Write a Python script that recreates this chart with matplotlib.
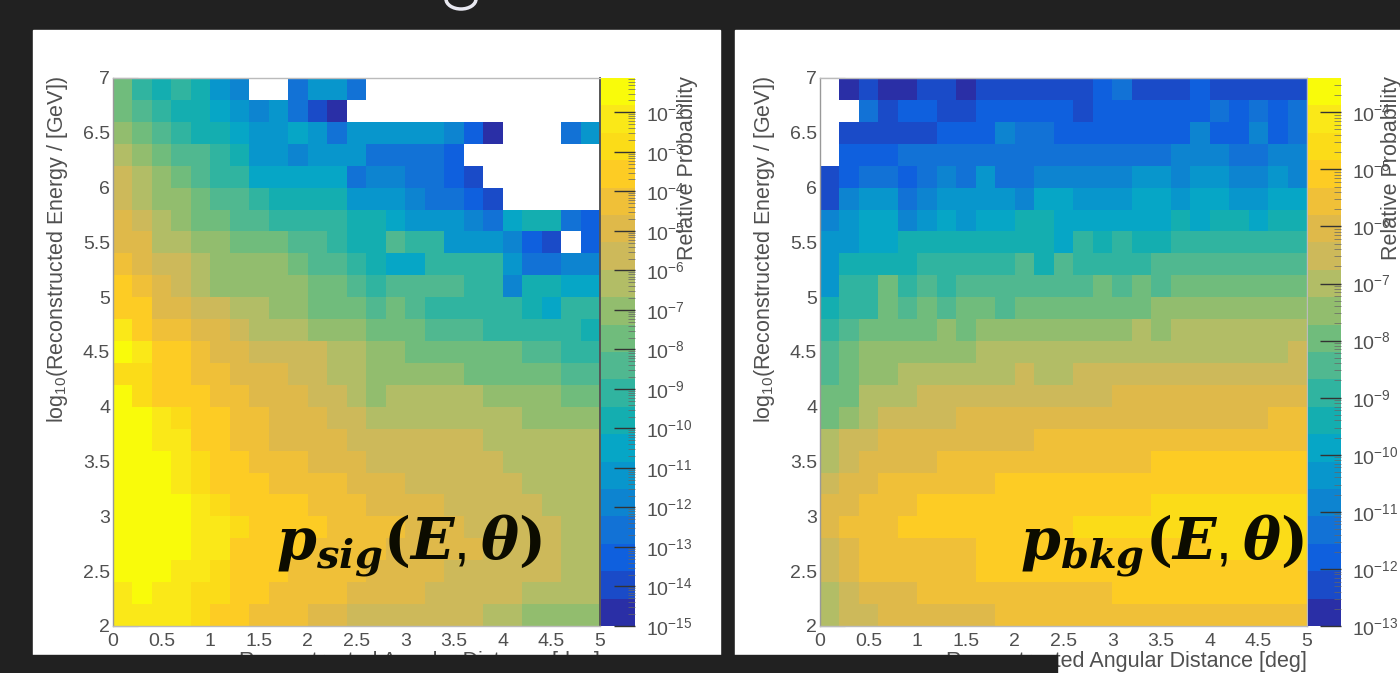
import numpy as np
import matplotlib
matplotlib.use('Agg')
import matplotlib.pyplot as plt
from matplotlib.colors import ListedColormap, LogNorm
from matplotlib.patches import Rectangle, Ellipse
from matplotlib.ticker import FixedLocator, NullFormatter

plt.rcParams['font.family'] = ['Liberation Sans', 'DejaVu Sans']
plt.rcParams['mathtext.default'] = 'regular'

W = -1  # empty bin

# colour level (0-19) of each bin, top row is y = 7
sig_levels = [
    [10, 8, 7, 8, 7, 5, 4, W, W, 3, 5, 5, 3, W, W, W, W, W, W, W, W, W, W, W, W],
    [10, 9, 8, 7, 7, 6, 5, 4, 5, 3, 1, 0, W, W, W, W, W, W, W, W, W, W, W, W, W],
    [11, 10, 9, 8, 7, 7, 6, 5, 5, 6, 5, 3, 5, 5, 5, 5, 5, 4, 2, 0, W, W, W, 3, 5],
    [12, 11, 10, 9, 9, 8, 7, 5, 5, 4, 5, 5, 5, 3, 3, 3, 3, 2, W, W, W, W, W, W, W],
    [13, 12, 11, 10, 9, 8, 8, 6, 6, 6, 6, 6, 3, 4, 4, 3, 3, 2, 1, W, W, W, W, W, W],
    [13, 12, 11, 11, 10, 9, 9, 8, 7, 7, 7, 7, 5, 5, 5, 4, 3, 3, 2, 1, W, W, W, W, W],
    [14, 13, 12, 11, 10, 10, 9, 9, 8, 8, 8, 8, 7, 7, 6, 5, 5, 5, 4, 3, 6, 7, 7, 3, 2],
    [14, 14, 12, 12, 11, 11, 10, 10, 10, 9, 9, 8, 7, 7, 9, 8, 8, 5, 5, 5, 4, 2, 1, W, 2],
    [15, 14, 13, 13, 12, 11, 11, 11, 11, 10, 9, 9, 8, 7, 6, 6, 8, 8, 8, 8, 5, 3, 3, 4, 4],
    [16, 15, 14, 13, 12, 11, 11, 11, 11, 11, 10, 10, 9, 8, 9, 9, 9, 9, 8, 8, 4, 7, 7, 6, 6],
    [16, 16, 14, 14, 13, 13, 12, 12, 11, 11, 10, 10, 10, 9, 10, 9, 8, 8, 8, 8, 8, 7, 6, 8, 8],
    [18, 16, 15, 15, 14, 14, 13, 12, 12, 12, 11, 11, 11, 10, 10, 10, 9, 9, 9, 8, 8, 8, 8, 8, 7],
    [19, 18, 16, 16, 15, 14, 14, 13, 13, 13, 13, 12, 12, 11, 11, 10, 10, 10, 10, 10, 10, 9, 9, 8, 8],
    [17, 17, 16, 16, 15, 15, 14, 14, 14, 13, 13, 12, 12, 11, 11, 11, 11, 11, 10, 10, 10, 10, 10, 9, 9],
    [19, 17, 16, 16, 16, 15, 15, 14, 14, 14, 13, 13, 12, 11, 12, 12, 12, 12, 12, 11, 11, 11, 11, 10, 10],
    [19, 19, 18, 17, 16, 16, 15, 15, 14, 14, 14, 13, 13, 12, 12, 12, 12, 12, 12, 12, 12, 11, 11, 11, 11],
    [19, 19, 18, 18, 16, 16, 15, 15, 14, 14, 14, 14, 13, 13, 13, 13, 13, 13, 13, 12, 12, 12, 12, 12, 12],
    [19, 19, 19, 18, 17, 16, 16, 15, 15, 15, 14, 14, 14, 13, 13, 13, 13, 13, 13, 13, 12, 12, 12, 12, 12],
    [19, 19, 19, 18, 17, 16, 16, 16, 15, 15, 15, 15, 14, 14, 14, 13, 13, 13, 13, 13, 13, 12, 12, 12, 12],
    [19, 19, 19, 19, 18, 17, 16, 16, 16, 16, 15, 15, 15, 14, 14, 14, 14, 13, 13, 13, 13, 13, 12, 12, 12],
    [19, 19, 19, 19, 18, 18, 17, 16, 16, 16, 16, 15, 15, 15, 15, 14, 14, 14, 13, 13, 13, 13, 13, 12, 12],
    [19, 19, 19, 19, 18, 18, 16, 16, 16, 16, 15, 15, 15, 15, 14, 14, 14, 14, 14, 13, 13, 13, 13, 12, 12],
    [19, 19, 19, 18, 18, 17, 16, 16, 16, 15, 15, 15, 15, 14, 14, 14, 14, 13, 13, 13, 13, 13, 13, 12, 12],
    [18, 19, 18, 18, 17, 17, 16, 16, 15, 15, 15, 15, 14, 14, 14, 14, 13, 13, 13, 13, 13, 12, 12, 12, 12],
    [18, 18, 18, 18, 17, 16, 16, 15, 15, 15, 14, 14, 13, 13, 13, 13, 13, 13, 13, 12, 12, 11, 11, 11, 11],
]

bkg_levels = [
    [W, 0, 1, 0, 0, 1, 1, 0, 1, 1, 1, 1, 1, 1, 2, 3, 1, 1, 1, 2, 1, 1, 1, 1, 1],
    [W, W, 3, 1, 2, 2, 1, 1, 2, 2, 2, 2, 2, 1, 2, 2, 2, 2, 2, 2, 3, 2, 3, 2, 3],
    [W, 1, 1, 1, 1, 1, 2, 2, 2, 4, 3, 3, 2, 2, 2, 2, 2, 2, 2, 4, 2, 2, 4, 2, 3],
    [W, 2, 2, 2, 3, 3, 3, 3, 3, 3, 3, 3, 3, 3, 3, 3, 3, 3, 4, 4, 4, 3, 3, 4, 4],
    [1, 2, 3, 3, 2, 3, 4, 3, 5, 3, 3, 4, 4, 4, 4, 4, 5, 5, 4, 5, 5, 4, 4, 5, 4],
    [1, 4, 5, 5, 3, 4, 5, 5, 5, 5, 4, 6, 6, 5, 5, 5, 6, 6, 5, 6, 6, 5, 5, 6, 6],
    [4, 5, 6, 6, 4, 5, 6, 5, 6, 6, 7, 7, 6, 6, 6, 6, 6, 6, 7, 6, 7, 7, 6, 7, 7],
    [5, 5, 6, 6, 7, 7, 7, 7, 7, 7, 7, 7, 6, 8, 7, 8, 7, 7, 8, 8, 8, 8, 8, 8, 8],
    [5, 7, 7, 7, 7, 8, 8, 8, 8, 8, 9, 7, 9, 8, 8, 8, 8, 9, 9, 9, 9, 9, 9, 9, 9],
    [5, 8, 8, 10, 8, 9, 8, 9, 9, 9, 9, 9, 9, 9, 10, 9, 10, 9, 10, 10, 10, 10, 10, 10, 10],
    [7, 8, 8, 10, 9, 10, 9, 10, 10, 9, 10, 10, 10, 10, 10, 10, 10, 11, 11, 11, 11, 11, 11, 11, 11],
    [8, 9, 10, 10, 10, 10, 11, 10, 11, 11, 11, 11, 11, 11, 11, 11, 12, 11, 12, 12, 12, 12, 12, 12, 12],
    [9, 10, 11, 11, 11, 11, 11, 11, 12, 12, 12, 12, 12, 12, 12, 12, 12, 12, 12, 12, 12, 12, 12, 12, 13],
    [9, 10, 11, 11, 12, 12, 12, 12, 12, 12, 13, 12, 12, 13, 13, 13, 13, 13, 13, 13, 13, 13, 13, 13, 13],
    [10, 10, 12, 12, 12, 13, 13, 13, 13, 13, 13, 13, 13, 13, 13, 14, 14, 14, 14, 14, 14, 14, 14, 14, 14],
    [10, 11, 12, 13, 13, 13, 13, 14, 14, 14, 14, 14, 14, 14, 14, 14, 14, 14, 14, 14, 14, 14, 14, 15, 15],
    [12, 13, 13, 14, 14, 14, 14, 14, 14, 14, 14, 15, 15, 15, 15, 15, 15, 15, 15, 15, 15, 15, 15, 15, 15],
    [12, 13, 14, 14, 14, 14, 15, 15, 15, 15, 15, 15, 15, 15, 15, 15, 15, 16, 16, 16, 16, 16, 16, 16, 16],
    [13, 14, 14, 15, 15, 15, 15, 15, 15, 16, 16, 16, 16, 16, 16, 16, 16, 16, 16, 16, 16, 16, 16, 16, 16],
    [14, 14, 15, 15, 15, 16, 16, 16, 16, 16, 16, 16, 16, 16, 16, 16, 16, 17, 17, 17, 17, 17, 17, 17, 17],
    [14, 15, 15, 15, 16, 16, 16, 16, 16, 16, 16, 16, 16, 17, 17, 17, 17, 17, 17, 17, 17, 17, 17, 17, 17],
    [13, 14, 15, 15, 15, 15, 15, 15, 16, 16, 16, 16, 16, 16, 16, 16, 16, 16, 16, 16, 17, 17, 17, 17, 17],
    [13, 14, 15, 15, 15, 15, 15, 15, 16, 16, 16, 16, 16, 16, 16, 16, 16, 16, 16, 16, 16, 16, 16, 16, 16],
    [12, 13, 14, 14, 14, 15, 15, 15, 15, 15, 15, 15, 15, 15, 15, 16, 16, 16, 16, 16, 16, 16, 16, 16, 16],
    [12, 13, 13, 14, 14, 14, 14, 14, 14, 15, 15, 15, 15, 15, 15, 15, 15, 15, 15, 15, 15, 15, 15, 15, 15],
]

band_colors = ['#2a2fa6', '#1a4bc8', '#0f60de', '#1272d6', '#0d84d0', '#0896cc', '#06a6c6', '#14aeb0',
               '#30b4a0', '#50b890', '#70bc7c', '#92bd6e', '#b2bd66', '#cdb95a', '#dfb94a', '#f0c038',
               '#fdcc24', '#fbdc18', '#fae818', '#f9fb0a']

x_ticks = [0, 0.5, 1, 1.5, 2, 2.5, 3, 3.5, 4, 4.5, 5]
x_labels = ['0', '0.5', '1', '1.5', '2', '2.5', '3', '3.5', '4', '4.5', '5']
y_ticks = [2, 2.5, 3, 3.5, 4, 4.5, 5, 5.5, 6, 6.5, 7]
y_labels = ['2', '2.5', '3', '3.5', '4', '4.5', '5', '5.5', '6', '6.5', '7']

sig_exponents = [-15, -14, -13, -12, -11, -10, -9, -8, -7, -6, -5, -4, -3, -2]
bkg_exponents = [-13, -12, -11, -10, -9, -8, -7, -6, -5, -4]

BG = '#212121'
FW, FH = 1400, 673
cmap = ListedColormap(band_colors)
cmap.set_bad('white')


def box(x0, y0, x1, y1):
    # pixel box (y from the top) to figure fractions
    return [x0 / FW, 1 - y1 / FH, (x1 - x0) / FW, (y1 - y0) / FH]


def panel(fig, levels, exponents, log_min, log_max, ax_px, cb_px, title, title_px, label_x, cb_label_x):
    ax = fig.add_axes(box(*ax_px))
    cax = fig.add_axes(box(*cb_px))

    grid = np.array(levels, dtype=float)[::-1]
    step = (log_max - log_min) / len(band_colors)
    values = np.ma.masked_where(grid < 0, 10 ** (log_min + (grid + 0.5) * step))
    norm = LogNorm(10 ** log_min, 10 ** log_max)
    x_edges = np.linspace(0, 5, grid.shape[1] + 1)
    y_edges = np.linspace(2, 7, grid.shape[0] + 1)
    mesh = ax.pcolormesh(x_edges, y_edges, values, cmap=cmap, norm=norm, linewidth=0, rasterized=True)

    ax.set_axisbelow(True)
    ax.set_xlim(0, 5)
    ax.set_ylim(2, 7)
    ax.set_xticks(x_ticks, x_labels)
    ax.set_yticks(y_ticks, y_labels)
    ax.yaxis.set_minor_locator(FixedLocator(np.arange(2, 7.01, 0.1)))
    ax.tick_params(axis='both', which='major', direction='in', length=18, width=0.8, color='#555555',
                   labelsize=14, labelcolor='#505050', pad=2)
    ax.tick_params(axis='y', which='minor', direction='in', length=9, width=0.7, color='#777777')
    ax.tick_params(axis='x', which='major', length=0, pad=5)
    for side in ax.spines.values():
        side.set_color('#bbbbbb')
        side.set_linewidth(1.0)
    ax.spines['left'].set_color('#999999')

    fig.colorbar(mesh, cax=cax)
    cax.yaxis.set_major_locator(FixedLocator([10.0 ** e for e in exponents]))
    cax.yaxis.set_ticklabels([f'$10^{{{e}}}$' for e in exponents])
    minors = [m * 10.0 ** e for e in range(log_min - 1, 0) for m in range(2, 10)]
    cax.yaxis.set_minor_locator(FixedLocator([v for v in minors if 10 ** log_min <= v <= 10 ** log_max]))
    cax.yaxis.set_minor_formatter(NullFormatter())
    cax.tick_params(which='major', direction='in', length=15, width=1.0, color='#333333',
                    labelsize=14, labelcolor='#505050', pad=8)
    cax.tick_params(which='minor', direction='in', length=5, width=0.5, color='#666666')
    for side in cax.spines.values():
        side.set_visible(False)

    fig.text(label_x / FW, 1 - 661 / FH, 'Reconstructed Angular Distance [deg]', ha='right', va='center',
             fontsize=15.5, color='#505050')
    fig.text((ax_px[0] - 55) / FW, 1 - 76 / FH, r'$log_{10}$(Reconstructed Energy / [GeV])', rotation=90,
             ha='center', va='top', fontsize=15.5, color='#505050')
    fig.text(cb_label_x / FW, 1 - 76 / FH, 'Relative Probability', rotation=90, ha='center', va='top',
             fontsize=15.5, color='#505050')
    fig.text(title_px[0] / FW, 1 - title_px[1] / FH, title, ha='left', va='baseline', fontsize=41,
             color='#0c0c00', math_fontfamily='dejavuserif')
    return ax


fig = plt.figure(figsize=(14, 6.73), dpi=100, facecolor=BG)

# white slides behind the plots
fig.add_artist(Rectangle((33 / FW, 1 - 655 / FH), 687 / FW, 625 / FH, transform=fig.transFigure, color='white', zorder=-5))
fig.add_artist(Rectangle((735 / FW, 0), 665 / FW, 1 - 30 / FH, transform=fig.transFigure, color='white', zorder=-5))

sig_title = r'$\mathbfit{p}_{\mathbfit{sig}}\mathbf{(}\mathbfit{E},\mathbfit{\theta}\mathbf{)}$'
bkg_title = r'$\mathbfit{p}_{\mathbfit{bkg}}\mathbf{(}\mathbfit{E},\mathbfit{\theta}\mathbf{)}$'

left = panel(fig, sig_levels, sig_exponents, -15, -1.13, (113, 78, 600, 626), (601, 78, 635, 626),
             sig_title, (276, 558), 600, 688)
right = panel(fig, bkg_levels, bkg_exponents, -13, -3.4, (820, 78, 1307, 626), (1308, 78, 1341, 626),
              bkg_title, (1020, 558), 1307, 1392)
# dark edge between the left map and its scale
left.spines['right'].set_color('#555555')
left.spines['right'].set_linewidth(1.4)

# strip of the slide that covers the lower edge of the screenshot
fig.add_artist(Rectangle((0, 0), 1057 / FW, 18 / FH, transform=fig.transFigure, color=BG, zorder=10))
# bit of a logo cut off by the top edge
fig.add_artist(Ellipse((461 / FW, 1 + 1 / FH), 30 / FW, 20 / FH, transform=fig.transFigure, fill=False,
                       edgecolor='#e8e8f0', linewidth=2.5, zorder=10))

fig.savefig('out.png', dpi=100, facecolor=BG)
